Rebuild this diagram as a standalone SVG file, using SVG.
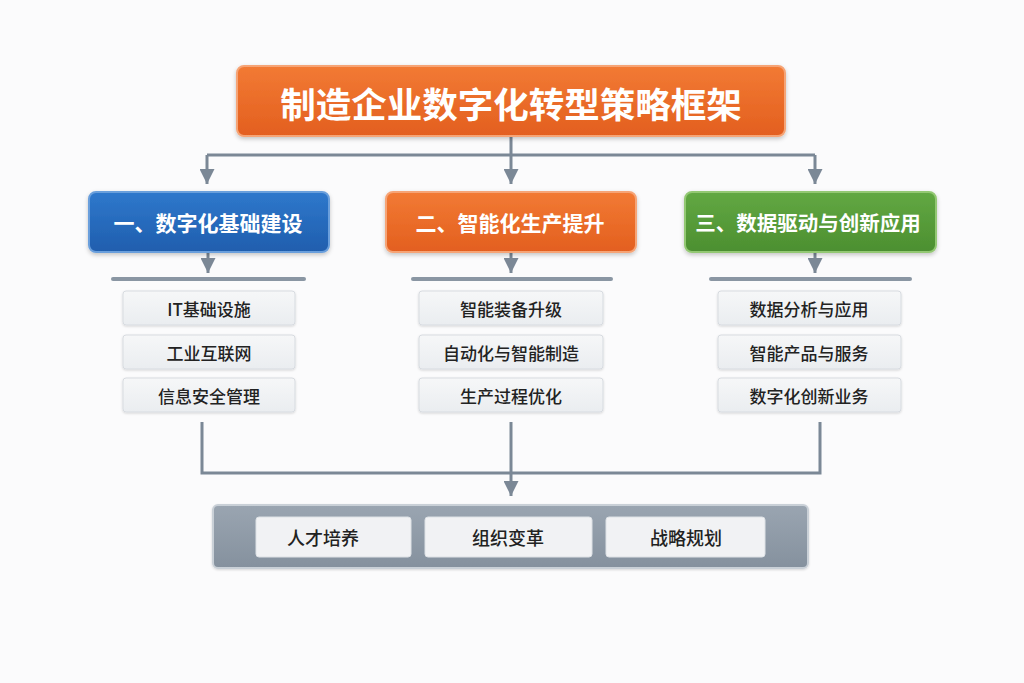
<svg xmlns="http://www.w3.org/2000/svg" width="1024" height="683" viewBox="0 0 1024 683">
<defs>
<linearGradient id="gOrange" x1="0" y1="0" x2="0" y2="1"><stop offset="0" stop-color="#f27a34"/><stop offset="1" stop-color="#e35f1f"/></linearGradient>
<linearGradient id="gBlue" x1="0" y1="0" x2="0" y2="1"><stop offset="0" stop-color="#2f78cc"/><stop offset="1" stop-color="#1f5eae"/></linearGradient>
<linearGradient id="gGreen" x1="0" y1="0" x2="0" y2="1"><stop offset="0" stop-color="#62a843"/><stop offset="1" stop-color="#4c8f30"/></linearGradient>
<linearGradient id="gGray" x1="0" y1="0" x2="0" y2="1"><stop offset="0" stop-color="#9aa5b1"/><stop offset="1" stop-color="#85919e"/></linearGradient>
<linearGradient id="gItem" x1="0" y1="0" x2="0" y2="1"><stop offset="0" stop-color="#f6f7f8"/><stop offset="1" stop-color="#eaedf0"/></linearGradient>
<filter id="sh" x="-10%" y="-20%" width="120%" height="150%"><feDropShadow dx="0" dy="2" stdDeviation="2" flood-color="#000" flood-opacity="0.22"/></filter>
<filter id="sh2" x="-10%" y="-20%" width="120%" height="150%"><feDropShadow dx="0" dy="1" stdDeviation="1.2" flood-color="#000" flood-opacity="0.15"/></filter>
<marker id="arr" viewBox="0 0 10 10" refX="10" refY="5" markerWidth="5" markerHeight="5" orient="auto" markerUnits="strokeWidth"><path d="M0,0 L10,5 L0,10 z" fill="#7b8896"/></marker>
</defs>
<style>
.cn{font-family:"Noto Sans CJK SC","Noto Sans",sans-serif;text-anchor:middle;dominant-baseline:central}
.title{font-size:35.5px;font-weight:700;fill:#fff}
.hd{font-size:21px;font-weight:700;fill:#fff}
.hd3{font-size:20.5px}
.it{font-size:17px;font-weight:500;fill:#222}
.bt{font-size:18px;font-weight:500;fill:#222}
.item{fill:url(#gItem);stroke:#d7dbe0;stroke-width:1}
.ln{stroke:#7b8896;stroke-width:3;fill:none}
.bar{stroke:#8a96a3;stroke-width:4;stroke-linecap:round}
</style>
<rect width="1024" height="683" fill="#fbfbfc"/>

<g id="connectors">
<path class="ln" d="M511,136 V155 M207,155 H815"/>
<path class="ln" d="M207,155 V184" marker-end="url(#arr)"/>
<path class="ln" d="M511,155 V184" marker-end="url(#arr)"/>
<path class="ln" d="M815,155 V184" marker-end="url(#arr)"/>
<path class="ln" d="M208,252 V273" marker-end="url(#arr)"/>
<path class="ln" d="M511,252 V273" marker-end="url(#arr)"/>
<path class="ln" d="M815,252 V273" marker-end="url(#arr)"/>
<line class="bar" x1="113" y1="279" x2="304" y2="279"/>
<line class="bar" x1="413" y1="279" x2="611" y2="279"/>
<line class="bar" x1="711" y1="279" x2="910" y2="279"/>
<path class="ln" d="M202,422 V473 H820 V422"/>
<path class="ln" d="M511,422 V496" marker-end="url(#arr)"/>
</g>

<g id="title">
<rect x="237" y="66" width="548" height="70" rx="7" fill="url(#gOrange)" stroke="#f6a476" stroke-width="2" filter="url(#sh)"/>
<text class="cn title" x="511" y="102">制造企业数字化转型策略框架</text>
</g>

<g id="h1">
<rect x="89" y="192" width="240" height="60" rx="7" fill="url(#gBlue)" stroke="#6a9fdc" stroke-width="2" filter="url(#sh)"/>
<text class="cn hd" x="208" y="222">一、数字化基础建设</text>
</g>
<g id="h2">
<rect x="386" y="192" width="250" height="60" rx="7" fill="url(#gOrange)" stroke="#f6a476" stroke-width="2" filter="url(#sh)"/>
<text class="cn hd" x="510" y="222">二、智能化生产提升</text>
</g>
<g id="h3">
<rect x="685" y="192" width="251" height="60" rx="7" fill="url(#gGreen)" stroke="#93c873" stroke-width="2" filter="url(#sh)"/>
<text class="cn hd hd3" x="808" y="222">三、数据驱动与创新应用</text>
</g>

<g id="c1">
<g id="c1a"><rect class="item" x="123" y="291" width="172" height="34" rx="3" filter="url(#sh2)"/><text class="cn it" x="209" y="308">IT基础设施</text></g>
<g id="c1b"><rect class="item" x="123" y="335" width="172" height="34" rx="3" filter="url(#sh2)"/><text class="cn it" x="209" y="352">工业互联网</text></g>
<g id="c1c"><rect class="item" x="123" y="378" width="172" height="34" rx="3" filter="url(#sh2)"/><text class="cn it" x="209" y="395">信息安全管理</text></g>
</g>
<g id="c2">
<g id="c2a"><rect class="item" x="419" y="291" width="184" height="34" rx="3" filter="url(#sh2)"/><text class="cn it" x="511" y="308">智能装备升级</text></g>
<g id="c2b"><rect class="item" x="419" y="335" width="184" height="34" rx="3" filter="url(#sh2)"/><text class="cn it" x="511" y="352">自动化与智能制造</text></g>
<g id="c2c"><rect class="item" x="419" y="378" width="184" height="34" rx="3" filter="url(#sh2)"/><text class="cn it" x="511" y="395">生产过程优化</text></g>
</g>
<g id="c3">
<g id="c3a"><rect class="item" x="718" y="291" width="183" height="34" rx="3" filter="url(#sh2)"/><text class="cn it" x="809" y="308">数据分析与应用</text></g>
<g id="c3b"><rect class="item" x="718" y="335" width="183" height="34" rx="3" filter="url(#sh2)"/><text class="cn it" x="809" y="352">智能产品与服务</text></g>
<g id="c3c"><rect class="item" x="718" y="378" width="183" height="34" rx="3" filter="url(#sh2)"/><text class="cn it" x="809" y="395">数字化创新业务</text></g>
</g>

<g id="base">
<rect x="213" y="505" width="595" height="63" rx="5" fill="url(#gGray)" stroke="#c9d0d7" stroke-width="2" filter="url(#sh2)"/>
<g id="b1"><rect x="256" y="517" width="155" height="40" rx="3" fill="#f1f2f4" stroke="#dde1e5"/><text class="cn bt" x="323" y="537">人才培养</text></g>
<g id="b2"><rect x="425" y="517" width="167" height="40" rx="3" fill="#f1f2f4" stroke="#dde1e5"/><text class="cn bt" x="508" y="537">组织变革</text></g>
<g id="b3"><rect x="606" y="517" width="159" height="40" rx="3" fill="#f1f2f4" stroke="#dde1e5"/><text class="cn bt" x="686" y="537">战略规划</text></g>
</g>
</svg>
